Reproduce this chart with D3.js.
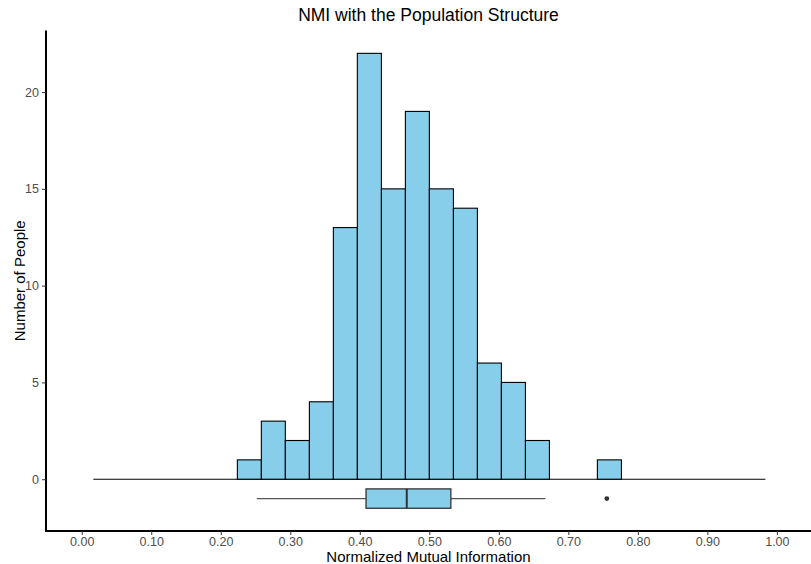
<!DOCTYPE html>
<html>
<head>
<meta charset="utf-8">
<script src="https://cdn.jsdelivr.net/npm/d3@7"></script>
<style>
    body { margin: 0; background: #ffffff; }
    svg { display: block; font-family: 'Liberation Sans', Arial, sans-serif; }
</style>
</head>
<body>
<svg width="811" height="564"></svg>
<script>
// histogram bins (lower edges, last value is the final upper edge)
const binEdges = [0.0167, 0.0512, 0.0858, 0.1203, 0.1548, 0.1894, 0.2239, 0.2584, 0.2929, 0.3275,
    0.3620, 0.3965, 0.4311, 0.4656, 0.5001, 0.5347, 0.5692, 0.6037, 0.6383, 0.6728,
    0.7073, 0.7418, 0.7764, 0.8109, 0.8454, 0.8800, 0.9145, 0.9490, 0.9835];
const binCounts = [0, 0, 0, 0, 0, 0, 1, 3, 2, 4, 13, 22, 15, 19, 15, 14, 6, 5, 2, 0, 0, 1, 0, 0, 0, 0, 0, 0];

// boxplot summary: lower whisker, q1, median, q3, upper whisker
const boxStats = [0.2518, 0.409, 0.4676, 0.531, 0.667];
const boxOutliers = [0.7554];
const boxCenter = -1;

const xTicks = [0, 0.1, 0.2, 0.3, 0.4, 0.5, 0.6, 0.7, 0.8, 0.9, 1.0];
const yTicks = [0, 5, 10, 15, 20];

const svg = d3.select('svg'),
    margin = {
        top: 30.6,
        right: 0,
        bottom: 33,
        left: 46
    },
    width = +svg.attr('width'),
    height = +svg.attr('height');

const x = d3.scaleLinear()
    .domain([-0.0514, 1.0491])
    .range([margin.left, width - margin.right]);

const y = d3.scaleLinear()
    .domain([-2.675, 23.175])
    .range([height - margin.bottom, margin.top]);

const bins = binCounts.map(function (c, i) {
    return {x0: binEdges[i], x1: binEdges[i + 1], count: c};
});

// baseline drawn by the zero-height bins
svg.append('line')
    .attr('x1', x(binEdges[0]))
    .attr('x2', x(binEdges[binEdges.length - 1]))
    .attr('y1', y(0))
    .attr('y2', y(0))
    .attr('stroke', '#000')
    .attr('stroke-width', 1.1);

svg.append('g')
    .selectAll('rect')
    .data(bins.filter(function (d) { return d.count > 0; }))
    .enter().append('rect')
    .attr('x', function (d) { return x(d.x0); })
    .attr('width', function (d) { return x(d.x1) - x(d.x0); })
    .attr('y', function (d) { return y(d.count); })
    .attr('height', function (d) { return y(0) - y(d.count); })
    .attr('fill', '#87CEEB')
    .attr('stroke', '#000')
    .attr('stroke-width', 1.1);

// boxplot under the histogram
const box = svg.append('g');
box.append('line')
    .attr('x1', x(boxStats[0])).attr('x2', x(boxStats[1]))
    .attr('y1', y(boxCenter)).attr('y2', y(boxCenter))
    .attr('stroke', '#555').attr('stroke-width', 1.1);
box.append('line')
    .attr('x1', x(boxStats[3])).attr('x2', x(boxStats[4]))
    .attr('y1', y(boxCenter)).attr('y2', y(boxCenter))
    .attr('stroke', '#555').attr('stroke-width', 1.1);
box.append('rect')
    .attr('x', x(boxStats[1]))
    .attr('width', x(boxStats[3]) - x(boxStats[1]))
    .attr('y', y(boxCenter + 0.5))
    .attr('height', y(boxCenter - 0.5) - y(boxCenter + 0.5))
    .attr('fill', '#87CEEB')
    .attr('stroke', '#333')
    .attr('stroke-width', 1.3);
box.append('line')
    .attr('x1', x(boxStats[2])).attr('x2', x(boxStats[2]))
    .attr('y1', y(boxCenter + 0.5)).attr('y2', y(boxCenter - 0.5))
    .attr('stroke', '#333').attr('stroke-width', 2);
box.selectAll('circle')
    .data(boxOutliers)
    .enter().append('circle')
    .attr('cx', function (d) { return x(d); })
    .attr('cy', y(boxCenter))
    .attr('r', 2.4)
    .attr('fill', '#333');

// axes
const xAxis = svg.append('g')
    .attr('transform', 'translate(0,' + (height - margin.bottom) + ')')
    .call(d3.axisBottom(x).tickValues(xTicks).tickFormat(d3.format('.2f')).tickSizeOuter(0).tickSize(4).tickPadding(2));
const yAxis = svg.append('g')
    .attr('transform', 'translate(' + margin.left + ',0)')
    .call(d3.axisLeft(y).tickValues(yTicks).tickSizeOuter(0).tickSize(4).tickPadding(3));

[xAxis, yAxis].forEach(function (a) {
    a.select('.domain').attr('stroke', '#000').attr('stroke-width', 2);
    a.selectAll('.tick line').attr('stroke', '#333').attr('stroke-width', 1);
    a.selectAll('.tick text')
        .attr('fill', '#4D4D4D')
        .style('font-size', '12.5px')
        .style('font-family', "'Liberation Sans', Arial, sans-serif");
});
// extend axis lines so they meet at the corner
xAxis.select('.domain').attr('d', 'M' + (margin.left - 1) + ',0H' + (width - margin.right));
yAxis.select('.domain').attr('d', 'M0,' + margin.top + 'V' + (height - margin.bottom + 1));

svg.append('text')
    .attr('x', (margin.left + width - margin.right) / 2)
    .attr('y', 20.5)
    .attr('text-anchor', 'middle')
    .style('font-size', '17.5px')
    .text('NMI with the Population Structure');

svg.append('text')
    .attr('x', (margin.left + width - margin.right) / 2)
    .attr('y', 562)
    .attr('text-anchor', 'middle')
    .style('font-size', '15px')
    .text('Normalized Mutual Information');

svg.append('text')
    .attr('transform', 'translate(25,' + ((margin.top + height - margin.bottom) / 2) + ') rotate(-90)')
    .attr('text-anchor', 'middle')
    .style('font-size', '15px')
    .text('Number of People');
</script>
</body>
</html>
